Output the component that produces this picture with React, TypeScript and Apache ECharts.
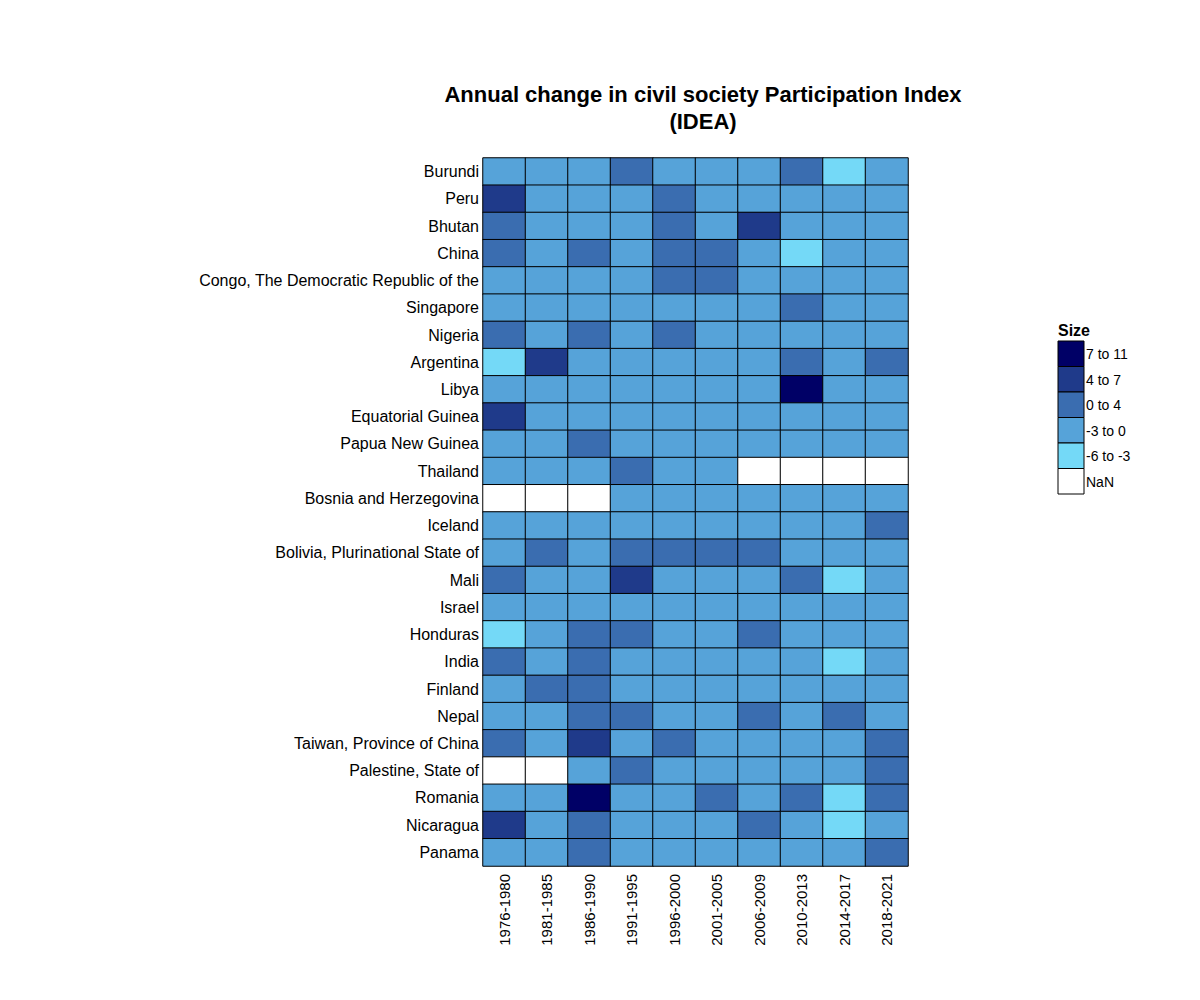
import React, { useEffect, useRef } from "react";
import * as echarts from "echarts";

const periods = ["1976-1980","1981-1985","1986-1990","1991-1995","1996-2000","2001-2005","2006-2009","2010-2013","2014-2017","2018-2021"];
const countries = ["Burundi","Peru","Bhutan","China","Congo, The Democratic Republic of the","Singapore","Nigeria","Argentina","Libya","Equatorial Guinea","Papua New Guinea","Thailand","Bosnia and Herzegovina","Iceland","Bolivia, Plurinational State of","Mali","Israel","Honduras","India","Finland","Nepal","Taiwan, Province of China","Palestine, State of","Romania","Nicaragua","Panama"];
// representative values per cell (bins: -6..-3, -3..0, 0..4, 4..7, 7..11), null = NaN
const N = null;
const values: (number | null)[][] = [
  [-1,-1,-1,2,-1,-1,-1,2,-4,-1],
  [5,-1,-1,-1,2,-1,-1,-1,-1,-1],
  [2,-1,-1,-1,2,-1,5,-1,-1,-1],
  [2,-1,2,-1,2,2,-1,-4,-1,-1],
  [-1,-1,-1,-1,2,2,-1,-1,-1,-1],
  [-1,-1,-1,-1,-1,-1,-1,2,-1,-1],
  [2,-1,2,-1,2,-1,-1,-1,-1,-1],
  [-4,5,-1,-1,-1,-1,-1,2,-1,2],
  [-1,-1,-1,-1,-1,-1,-1,9,-1,-1],
  [5,-1,-1,-1,-1,-1,-1,-1,-1,-1],
  [-1,-1,2,-1,-1,-1,-1,-1,-1,-1],
  [-1,-1,-1,2,-1,-1,N,N,N,N],
  [N,N,N,-1,-1,-1,-1,-1,-1,-1],
  [-1,-1,-1,-1,-1,-1,-1,-1,-1,2],
  [-1,2,-1,2,2,2,2,-1,-1,-1],
  [2,-1,-1,5,-1,-1,-1,2,-4,-1],
  [-1,-1,-1,-1,-1,-1,-1,-1,-1,-1],
  [-4,-1,2,2,-1,-1,2,-1,-1,-1],
  [2,-1,2,-1,-1,-1,-1,-1,-4,-1],
  [-1,2,2,-1,-1,-1,-1,-1,-1,-1],
  [-1,-1,2,2,-1,-1,2,-1,2,-1],
  [2,-1,5,-1,2,-1,-1,-1,-1,2],
  [N,N,-1,2,-1,-1,-1,-1,-1,2],
  [-1,-1,9,-1,-1,2,-1,2,-4,2],
  [5,-1,2,-1,-1,-1,2,-1,-4,-1],
  [-1,-1,2,-1,-1,-1,-1,-1,-1,2],
];
const legendLabels = ["7 to 11","4 to 7","0 to 4","-3 to 0","-6 to -3","NaN"];
const legendColors = ["#000066","#1f3a8a","#3a6db0","#56a3d9","#74d9f7","#ffffff"];

export default function App() {
  const ref = useRef<HTMLDivElement>(null);
  useEffect(() => {
    const chart = echarts.init(ref.current!, null, { renderer: "svg" });
    const data: any[] = [];
    values.forEach((row, yi) => row.forEach((v, xi) => data.push([xi, yi, v === null ? -99 : v])));
    const font = "Liberation Sans, Arial, sans-serif";
    const graphic: any[] = [{ type: "text", left: 1050, top: 314, style: { text: "Size", font: `bold 16px ${font}`, fill: "#000" } }];
    legendLabels.forEach((l, i) => {
      graphic.push({ type: "rect", shape: { x: 1050, y: 333 + i * 25.5, width: 26, height: 25.5 }, style: { fill: legendColors[i], stroke: "#000", lineWidth: 1 } });
      graphic.push({ type: "text", x: 1078, y: 346 + i * 25.5, style: { text: l, font: `14px ${font}`, fill: "#000", verticalAlign: "middle" } });
    });
    chart.setOption({
      animation: false,
      title: { text: "Annual change in civil society Participation Index\n(IDEA)", left: 690, top: 68, textAlign: "center",
        textStyle: { fontFamily: font, fontSize: 22, fontWeight: "bold", color: "#000", lineHeight: 27 } },
      grid: { left: 475, right: 300, top: 150, bottom: 142 },
      xAxis: { type: "category", data: periods, axisLine: { show: false }, axisTick: { show: false }, splitLine: { show: false },
        axisLabel: { rotate: 90, fontFamily: font, fontSize: 15, color: "#000", margin: 8 } },
      yAxis: { type: "category", data: countries, inverse: true, axisLine: { show: false }, axisTick: { show: false },
        axisLabel: { fontFamily: font, fontSize: 16, color: "#000", margin: 4 } },
      visualMap: { show: false, type: "piecewise", dimension: 2, pieces: [
        { min: 7, max: 11, color: legendColors[0] }, { min: 4, max: 7, color: legendColors[1] },
        { min: 0, max: 4, color: legendColors[2] }, { min: -3, max: 0, color: legendColors[3] },
        { min: -6, max: -3, color: legendColors[4] }, { min: -100, max: -50, color: legendColors[5] } ] },
      series: [{ type: "heatmap", data, itemStyle: { borderColor: "#000", borderWidth: 1 } }],
      graphic,
    });
    return () => chart.dispose();
  }, []);
  return <div ref={ref} style={{ width: 1200, height: 1000 }} />;
}
